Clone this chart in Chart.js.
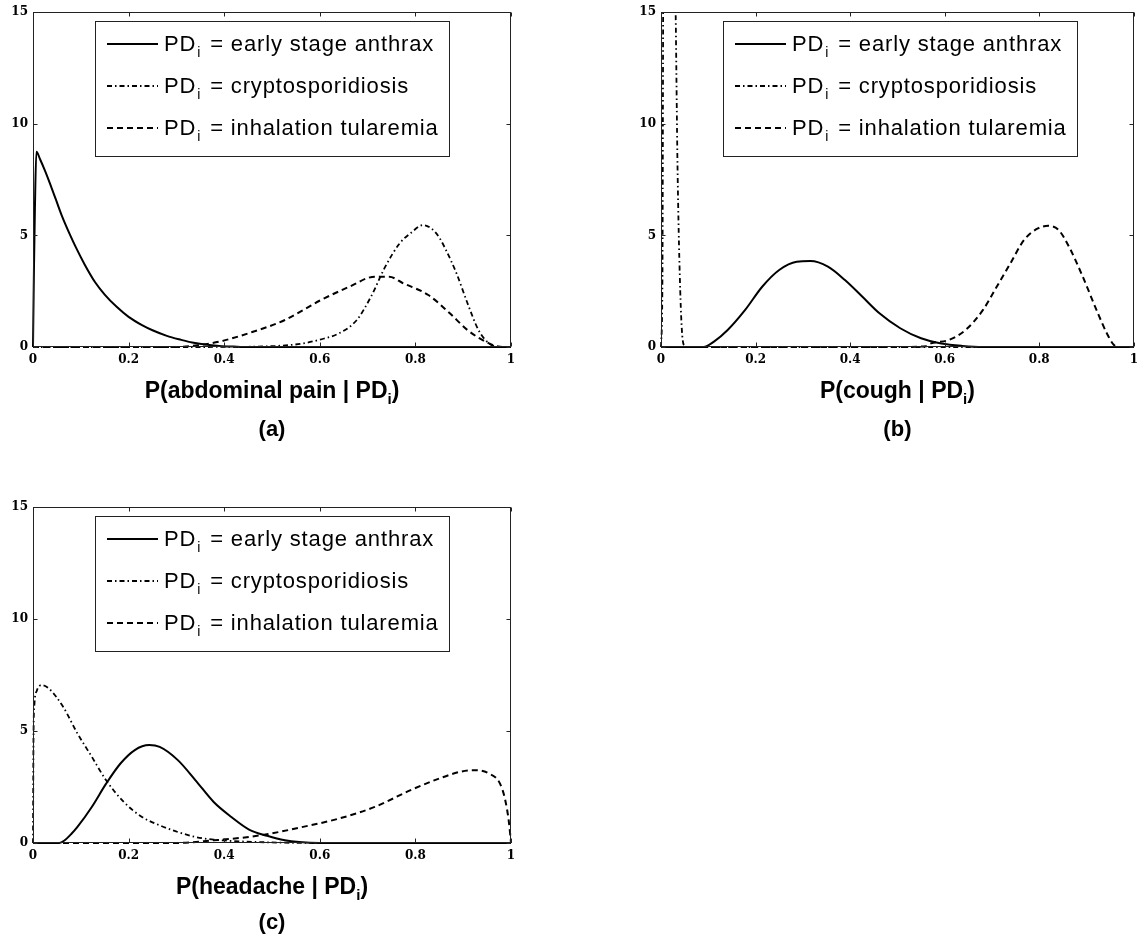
<!DOCTYPE html>
<html>
<head>
<meta charset="utf-8">
<title>P(symptom | PD_i)</title>
<script src="https://cdn.jsdelivr.net/npm/chart.js@4.4.1/dist/chart.umd.min.js"></script>
<style>
  body { margin: 0; background: #fff; width: 1144px; height: 942px; position: relative; overflow: hidden; }
  canvas { position: absolute; }
</style>
</head>
<body>
<canvas id="chartA" width="572" height="450" style="left:0;top:0"></canvas>
<canvas id="chartB" width="524" height="450" style="left:620px;top:0"></canvas>
<canvas id="chartC" width="572" height="462" style="left:0;top:480px"></canvas>
<script>
const diseases = ['early stage anthrax', 'cryptosporidiosis', 'inhalation tularemia'];
const xTicks = [0, 0.2, 0.4, 0.6, 0.8, 1];
const xTickLabels = ['0', '0.2', '0.4', '0.6', '0.8', '1'];
const yTicks = [0, 5, 10, 15];
const yTickLabels = ['0', '5', '10', '15'];

// (a) abdominal pain
const abdAnthraxX = [0, 0.002, 0.004, 0.007, 0.015, 0.025, 0.035, 0.048, 0.06, 0.078, 0.09, 0.108, 0.13, 0.15, 0.175, 0.2, 0.228, 0.25, 0.28, 0.31, 0.333, 0.36, 0.39, 0.42, 0.45, 0.5, 1];
const abdAnthraxY = [0, 3.5, 6.2, 8.75, 8.4, 7.9, 7.35, 6.6, 5.9, 5.0, 4.45, 3.7, 2.9, 2.35, 1.8, 1.35, 0.98, 0.75, 0.5, 0.32, 0.2, 0.11, 0.05, 0.02, 0, 0, 0];
const abdCryptoX = [0, 0.3, 0.45, 0.52, 0.565, 0.6, 0.64, 0.677, 0.707, 0.737, 0.767, 0.79, 0.816, 0.834, 0.85, 0.864, 0.886, 0.909, 0.932, 0.954, 0.977, 1];
const abdCryptoY = [0, 0, 0.01, 0.06, 0.16, 0.33, 0.61, 1.2, 2.25, 3.6, 4.64, 5.1, 5.46, 5.3, 4.9, 4.34, 3.3, 1.96, 0.76, 0.16, 0, 0];
const abdTularX = [0, 0.3, 0.348, 0.39, 0.45, 0.527, 0.602, 0.662, 0.715, 0.745, 0.775, 0.827, 0.872, 0.909, 0.947, 0.977, 1];
const abdTularY = [0, 0, 0.09, 0.24, 0.61, 1.21, 2.1, 2.7, 3.15, 3.15, 2.85, 2.33, 1.51, 0.76, 0.24, 0.01, 0];

// (b) cough
const coughAnthraxX = [0, 0.09, 0.112, 0.141, 0.178, 0.214, 0.25, 0.287, 0.316, 0.353, 0.389, 0.426, 0.462, 0.506, 0.55, 0.593, 0.637, 0.68, 1];
const coughAnthraxY = [0, 0, 0.24, 0.76, 1.66, 2.7, 3.45, 3.82, 3.85, 3.6, 3.0, 2.25, 1.51, 0.84, 0.39, 0.16, 0.05, 0, 0];
const coughCryptoX = [0, 0.003, 0.004, 0.005, 0.01, 0.02, 0.031, 0.035, 0.04, 0.045, 0.05, 0.055, 1];
const coughCryptoY = [0, 3, 10, 20, 30, 30, 15, 8, 3, 0.5, 0.05, 0, 0];
const coughTularX = [0, 0.5, 0.56, 0.571, 0.608, 0.644, 0.681, 0.71, 0.739, 0.768, 0.797, 0.819, 0.841, 0.863, 0.892, 0.921, 0.943, 0.958, 0.97, 1];
const coughTularY = [0, 0, 0.03, 0.16, 0.31, 0.76, 1.66, 2.7, 3.75, 4.8, 5.31, 5.43, 5.24, 4.49, 3.15, 1.66, 0.61, 0.09, 0, 0];

// (c) headache
const headAnthraxX = [0, 0.055, 0.065, 0.08, 0.093, 0.123, 0.153, 0.183, 0.213, 0.243, 0.265, 0.303, 0.34, 0.378, 0.415, 0.452, 0.49, 0.527, 0.557, 0.6, 1];
const headAnthraxY = [0, 0, 0.1, 0.4, 0.72, 1.61, 2.65, 3.55, 4.15, 4.37, 4.29, 3.7, 2.8, 1.83, 1.16, 0.6, 0.32, 0.12, 0.04, 0, 0];
const headCryptoX = [0, 0.001, 0.003, 0.008, 0.018, 0.033, 0.063, 0.093, 0.123, 0.153, 0.19, 0.228, 0.265, 0.303, 0.34, 0.378, 0.415, 0.49, 0.6, 1];
const headCryptoY = [0, 4.6, 6.2, 6.8, 7.05, 6.9, 6.08, 4.89, 3.85, 2.8, 1.83, 1.16, 0.79, 0.49, 0.27, 0.15, 0.09, 0.03, 0, 0];
const headTularX = [0, 0.3, 0.378, 0.452, 0.497, 0.565, 0.64, 0.715, 0.79, 0.85, 0.894, 0.924, 0.954, 0.977, 0.988, 0.996, 1];
const headTularY = [0, 0, 0.12, 0.27, 0.42, 0.72, 1.09, 1.61, 2.36, 2.88, 3.18, 3.25, 3.1, 2.65, 1.91, 0.87, 0];

const lineStyles = [
    { dash: [], width: 2 },
    { dash: [5, 3, 1.5, 3], width: 1.8 },
    { dash: [6, 4], width: 2 }
];

const tickFont = { family: '"DejaVu Serif"', size: 12, weight: 'bold' };

// draws text made of pieces (for the subscript i)
function drawParts(ctx, parts, x, y, align, spacing) {
    ctx.textAlign = 'left';
    ctx.textBaseline = 'alphabetic';
    ctx.fillStyle = '#000';
    ctx.letterSpacing = spacing;
    let total = 0;
    parts.forEach(p => { ctx.font = p.font; p.w = ctx.measureText(p.t).width + (p.dx || 0); total += p.w; });
    let cur = align === 'center' ? x - total / 2 : x;
    parts.forEach(p => { ctx.font = p.font; ctx.fillText(p.t, cur + (p.dx || 0), y + p.dy); cur += p.w; });
    ctx.letterSpacing = '0px';
}

const decor = {
    id: 'decor',
    afterDraw(chart, args, opts) {
        const ctx = chart.ctx, a = chart.chartArea;
        const xs = chart.scales.x, ys = chart.scales.y;
        const L = Math.round(a.left) + 0.5, R = Math.round(a.right) - 0.5;
        const T = Math.round(a.top) + 0.5, B = Math.round(a.bottom) - 0.5;
        ctx.save();
        ctx.strokeStyle = '#222';
        ctx.lineWidth = 1;
        ctx.setLineDash([]);
        ctx.strokeRect(L, T, R - L, B - T);
        // inward ticks on all four sides
        ctx.beginPath();
        xTicks.forEach(v => {
            const px = Math.round(xs.getPixelForValue(v)) + 0.5;
            ctx.moveTo(px, B); ctx.lineTo(px, B - 4);
            ctx.moveTo(px, T); ctx.lineTo(px, T + 4);
        });
        yTicks.forEach(v => {
            const py = Math.round(ys.getPixelForValue(v)) + 0.5;
            ctx.moveTo(L, py); ctx.lineTo(L + 4, py);
            ctx.moveTo(R, py); ctx.lineTo(R - 4, py);
        });
        ctx.stroke();

        // legend
        const lx = Math.round(a.left) + 62, ly = Math.round(a.top) + 9, lw = 354, lh = 135;
        ctx.fillStyle = '#fff';
        ctx.fillRect(lx, ly, lw, lh);
        ctx.strokeStyle = '#222';
        ctx.strokeRect(lx + 0.5, ly + 0.5, lw, lh);
        chart.data.datasets.forEach((ds, k) => {
            const base = ly + 30 + 42 * k;
            ctx.strokeStyle = '#000';
            ctx.lineWidth = ds.borderWidth;
            ctx.setLineDash(ds.borderDash);
            ctx.beginPath();
            ctx.moveTo(lx + 12, base - 7);
            ctx.lineTo(lx + 63, base - 7);
            ctx.stroke();
            ctx.setLineDash([]);
            drawParts(ctx, [
                { t: 'PD', font: '22px "Liberation Sans"', dy: 0 },
                { t: 'i', font: '14px "Liberation Sans"', dy: 6, dx: 1 },
                { t: ' = ' + ds.label, font: '22px "Liberation Sans"', dy: 0, dx: 2 }
            ], lx + 69, base, 'left', '0.85px');
        });

        // axis title and panel caption
        const cx = (a.left + a.right) / 2;
        drawParts(ctx, [
            { t: opts.title, font: 'bold 23px "Liberation Sans"', dy: 0 },
            { t: 'i', font: 'bold 15px "Liberation Sans"', dy: 6 },
            { t: ')', font: 'bold 23px "Liberation Sans"', dy: 0 }
        ], cx, a.bottom + 51, 'center', '0px');
        ctx.font = 'bold 22px "Liberation Sans"';
        ctx.textAlign = 'center';
        ctx.textBaseline = 'middle';
        ctx.fillStyle = '#000';
        ctx.fillText(opts.caption, cx, a.bottom + opts.captionDy);
        ctx.restore();
    }
};

function makeChart(id, xsList, ysList, title, caption, captionDy, pad, yWidth) {
    return new Chart(document.getElementById(id), {
        type: 'line',
        data: {
            datasets: diseases.map((name, k) => ({
                label: name,
                data: xsList[k].map((x, i) => ({ x: x, y: ysList[k][i] })),
                borderColor: '#000',
                borderWidth: lineStyles[k].width,
                borderDash: lineStyles[k].dash,
                pointRadius: 0,
                fill: false,
                clip: { left: 2, top: 0, right: 2, bottom: 3 },
                cubicInterpolationMode: 'monotone'
            }))
        },
        options: {
            responsive: false,
            animation: false,
            layout: { padding: pad },
            plugins: {
                legend: { display: false },
                tooltip: { enabled: false },
                decor: { title: title, caption: caption, captionDy: captionDy }
            },
            scales: {
                x: {
                    type: 'linear', min: 0, max: 1,
                    afterBuildTicks: s => { s.ticks = xTicks.map(v => ({ value: v })); },
                    afterFit: s => { s.height = 30; },
                    grid: { display: false, drawTicks: false },
                    border: { display: false },
                    ticks: {
                        padding: 6, color: '#000', font: tickFont, maxRotation: 0, autoSkip: false,
                        callback: (v, i) => xTickLabels[i]
                    }
                },
                y: {
                    type: 'linear', min: 0, max: 15,
                    afterBuildTicks: s => { s.ticks = yTicks.map(v => ({ value: v })); },
                    afterFit: s => { s.width = yWidth; },
                    grid: { display: false, drawTicks: false },
                    border: { display: false },
                    ticks: {
                        padding: 5, color: '#000', font: tickFont, autoSkip: false,
                        callback: (v, i) => yTickLabels[i]
                    }
                }
            }
        },
        plugins: [decor]
    });
}

makeChart('chartA', [abdAnthraxX, abdCryptoX, abdTularX], [abdAnthraxY, abdCryptoY, abdTularY],
    'P(abdominal pain | PD', '(a)', 83, { left: 0, top: 12, right: 61, bottom: 73 }, 33);
makeChart('chartB', [coughAnthraxX, coughCryptoX, coughTularX], [coughAnthraxY, coughCryptoY, coughTularY],
    'P(cough | PD', '(b)', 83, { left: 0, top: 12, right: 6, bottom: 73 }, 41);
makeChart('chartC', [headAnthraxX, headCryptoX, headTularX], [headAnthraxY, headCryptoY, headTularY],
    'P(headache | PD', '(c)', 80, { left: 0, top: 27, right: 61, bottom: 69 }, 33);
</script>
</body>
</html>
